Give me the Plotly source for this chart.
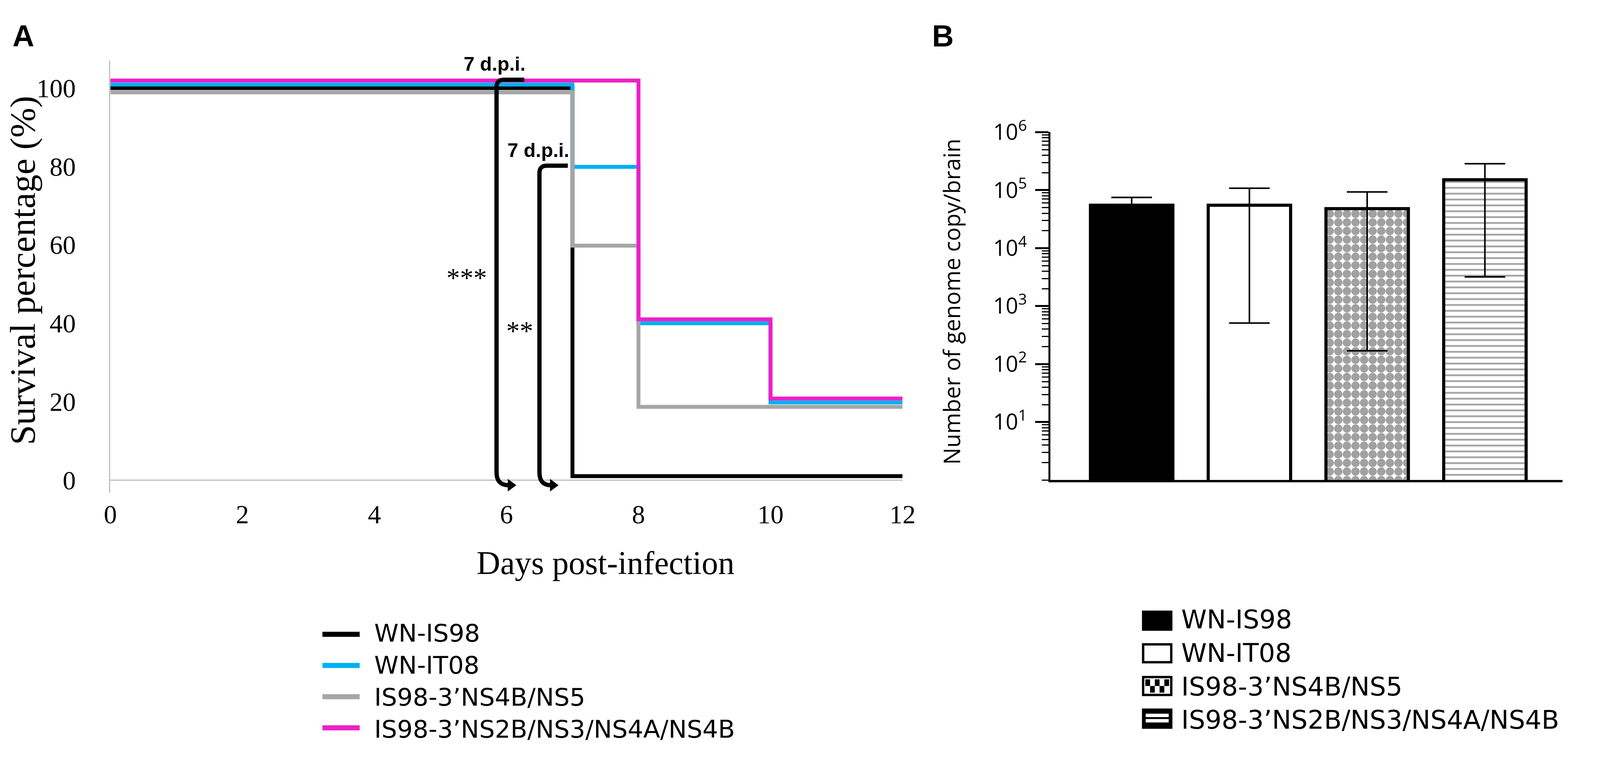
import plotly.graph_objects as go

# reference picture is 4328 x 1941; the browser viewport is only 4096 wide,
# so the figure is drawn at 4096 x 1941 and positions are kept as paper fractions
REF_W, REF_H = 4328, 1941
FIG_W, FIG_H = 4096, 1941
K = FIG_W / REF_W

# ---- panel A: survival curves (step)
# (curves are nudged a little apart in the original so they do not overlap)
series_names = ["WN-IS98", "WN-IT08", "IS98-3’NS4B/NS5", "IS98-3’NS2B/NS3/NS4A/NS4B"]
series_colors = ["#000000", "#00B0F0", "#A6A6A6", "#EE1FC8"]

days_is98 = [0, 7, 12]
surv_is98 = [100, 1, 1]
days_it08 = [0, 7, 8, 10, 12]
surv_it08 = [100.9, 79.9, 40.0, 19.8, 19.8]
days_ns4b = [0, 7, 8, 12]
surv_ns4b = [98.9, 59.8, 18.7, 18.7]
days_ns2b = [0, 8, 10, 12]
surv_ns2b = [101.9, 41.0, 20.8, 20.8]

day_ticks = [0, 2, 4, 6, 8, 10, 12]
surv_ticks = [0, 20, 40, 60, 80, 100]

# ---- panel B: genome copies per brain (bar = mean, whiskers = top / bottom ends)
groups = series_names
copies_mean = [5.5e4, 5.5e4, 4.8e4, 1.51e5]
copies_hi = [7.5e4, 1.08e5, 9.3e4, 2.86e5]
copies_lo = [3.5e4, 5.1e2, 1.7e2, 3.2e3]
log_ticks = [1e1, 1e2, 1e3, 1e4, 1e5, 1e6]
log_ticktext = ["10<sup>1</sup>", "10<sup>2</sup>", "10<sup>3</sup>",
                "10<sup>4</sup>", "10<sup>5</sup>", "10<sup>6</sup>"]


def px(x):
    return x / REF_W


def py(y):
    return 1 - y / REF_H


def fs(size):
    # horizontal text shrinks a bit with the narrower canvas
    return round(size * 0.96)


serif = "Liberation Serif"
sans = "Open Sans"
legend_font = "DejaVu Sans"

fig = go.Figure()

curves = [(days_is98, surv_is98), (days_it08, surv_it08),
          (days_ns4b, surv_ns4b), (days_ns2b, surv_ns2b)]
for (d, s), name, col in zip(curves, series_names, series_colors):
    fig.add_trace(go.Scatter(x=d, y=s, mode="lines", name=name,
                             line=dict(color=col, width=10, shape="hv"),
                             showlegend=False, xaxis="x", yaxis="y"))

fig.add_trace(go.Bar(
    x=groups, y=copies_mean, xaxis="x2", yaxis="y2", showlegend=False,
    marker=dict(color=["black", "white", "white", "white"],
                line=dict(color="black", width=8),
                pattern=dict(shape=["", "", ".", "-"], fgcolor="black", bgcolor="white",
                             size=[10, 10, 22, 15], solidity=[0.3, 0.3, 0.75, 0.3])),
    error_y=dict(type="data", symmetric=False,
                 array=[h - m for h, m in zip(copies_hi, copies_mean)],
                 arrayminus=[m - l for m, l in zip(copies_mean, copies_lo)],
                 color="black", thickness=4, width=round(55 * K)),
))

fig.update_layout(
    width=FIG_W, height=FIG_H, margin=dict(l=0, r=0, t=0, b=0),
    paper_bgcolor="white", plot_bgcolor="white", bargap=0.30,
    xaxis=dict(domain=[px(284), px(2454)], range=[0, 12], tickvals=day_ticks,
               showline=False, showgrid=False, zeroline=False, ticks="",
               tickfont=dict(family=serif, size=fs(70), color="black"), ticklabelstandoff=10),
    yaxis=dict(domain=[py(1248), py(112)], range=[-3.3, 107], tickvals=surv_ticks,
               showline=True, linecolor="#BFBFBF", linewidth=3,
               zeroline=True, zerolinecolor="#BFBFBF", zerolinewidth=3,
               showgrid=False, ticks="",
               tickfont=dict(family=serif, size=fs(70), color="black"), ticklabelstandoff=72),
    xaxis2=dict(domain=[px(2859), px(4262)], range=[-0.69, 3.66], anchor="y2",
                showline=True, linecolor="black", linewidth=6, showticklabels=False,
                ticks="", showgrid=False, zeroline=False),
    yaxis2=dict(domain=[py(1214), py(300)], type="log", range=[0, 6], anchor="x2",
                tickvals=log_ticks, ticktext=log_ticktext,
                showline=True, linecolor="black", linewidth=5,
                ticks="outside", ticklen=34, tickwidth=5, tickcolor="black",
                minor=dict(ticks="outside", ticklen=17, tickwidth=3, tickcolor="black",
                           dtick="D1", showgrid=False),
                showgrid=False, zeroline=False,
                tickfont=dict(family=sans, size=fs(58), color="black"), ticklabelstandoff=10),
)

# significance brackets in panel A, each ending in an arrowhead just past day 6 / 6.5
bracket_style = dict(type="path", xref="x", yref="y", line=dict(color="black", width=11))
fig.add_shape(path="M 6.27,102.1 L 5.96,102.1 Q 5.85,102.1 5.85,100.2 L 5.85,2 Q 5.85,-1.3 6.03,-1.3",
              **bracket_style)
fig.add_shape(path="M 6.93,80.2 L 6.61,80.2 Q 6.5,80.2 6.5,78.3 L 6.5,2 Q 6.5,-1.3 6.67,-1.3",
              **bracket_style)
for xb, xt in [(6.02, 6.15), (6.66, 6.79)]:
    fig.add_shape(type="path", xref="x", yref="y", fillcolor="black", line=dict(width=0),
                  path=f"M {xb},0.3 L {xt},-1.3 L {xb},-2.9 Z")

notes = [("7 d.p.i.", 5.82, 106.1, "Liberation Sans", 52, True),
         ("7 d.p.i.", 6.48, 84.1, "Liberation Sans", 52, True),
         ("***", 5.4, 51.5, serif, 72, False),
         ("**", 6.2, 38.0, serif, 72, False)]
for txt, xv, yv, fam, sz, bold in notes:
    fig.add_annotation(x=xv, y=yv, xref="x", yref="y", text=f"<b>{txt}</b>" if bold else txt,
                       xanchor="center", yanchor="middle", showarrow=False,
                       font=dict(family=fam, size=fs(sz), color="black"))


def label(x, y, text, size, family, angle=0, xanchor="center"):
    fig.add_annotation(x=px(x), y=py(y), xref="paper", yref="paper", text=text,
                       textangle=angle, xanchor=xanchor, yanchor="middle", align="left",
                       showarrow=False, font=dict(family=family, size=size, color="black"))


# axis titles and panel letters
label(44, 663, "Survival percentage (%)", 92, serif, angle=-90)
label(1640, 1432, "Days post-infection", fs(88), serif)
label(2587, 745, "Number of genome copy/brain", 58, sans, angle=-90)
label(46, 47, "<b>A</b>", fs(80), "Liberation Sans")
label(2565, 47, "<b>B</b>", fs(80), "Liberation Sans")

# legend A (line samples); text is one block, plotly spaces lines at 1.3 em
leg_a_size, leg_a_mid = 63, 1742
step_a = 1.3 * leg_a_size
for i, col in enumerate(series_colors):
    yrow = leg_a_mid + (i - 1.5) * step_a
    fig.add_shape(type="line", xref="paper", yref="paper", x0=px(865), x1=px(967),
                  y0=py(yrow), y1=py(yrow), line=dict(color=col, width=13))
label(1005, leg_a_mid, "<br>".join(series_names), leg_a_size, legend_font, xanchor="left")

# legend B (pattern swatches)
leg_b_size, leg_b_mid = 66, 1712
step_b = 1.3 * leg_b_size
sx0, sx1, sh = 3113, 3190, 47
for i in range(len(groups)):
    yrow = leg_b_mid + (i - 1.5) * step_b
    top, bot = yrow - sh / 2, yrow + sh / 2
    fill = "black" if i in (0, 3) else "white"
    fig.add_shape(type="rect", xref="paper", yref="paper", x0=px(sx0), x1=px(sx1),
                  y0=py(bot), y1=py(top), fillcolor=fill, line=dict(color="black", width=6))
    if i == 2:
        cw, ch = (sx1 - sx0 - 12) / 5, (sh - 12) / 2
        for r in range(2):
            for c in range(5):
                if (r + c) % 2 == 0:
                    fig.add_shape(type="rect", xref="paper", yref="paper",
                                  x0=px(sx0 + 6 + c * cw), x1=px(sx0 + 6 + (c + 1) * cw),
                                  y0=py(top + 6 + (r + 1) * ch), y1=py(top + 6 + r * ch),
                                  fillcolor="black", line=dict(width=0))
    if i == 3:
        for b0 in (-13, 1):
            fig.add_shape(type="rect", xref="paper", yref="paper", x0=px(sx0 + 7), x1=px(sx1 - 7),
                          y0=py(yrow + b0 + 9), y1=py(yrow + b0),
                          fillcolor="white", line=dict(width=0))
label(3215, leg_b_mid, "<br>".join(groups), leg_b_size, legend_font, xanchor="left")

# page has a default 8px body margin; drop it so the figure sits flush in the viewport
fig.write_html("out.html", config={"displayModeBar": False},
               post_script="document.body.style.margin='0';"
                           "document.documentElement.style.overflow='hidden';")
